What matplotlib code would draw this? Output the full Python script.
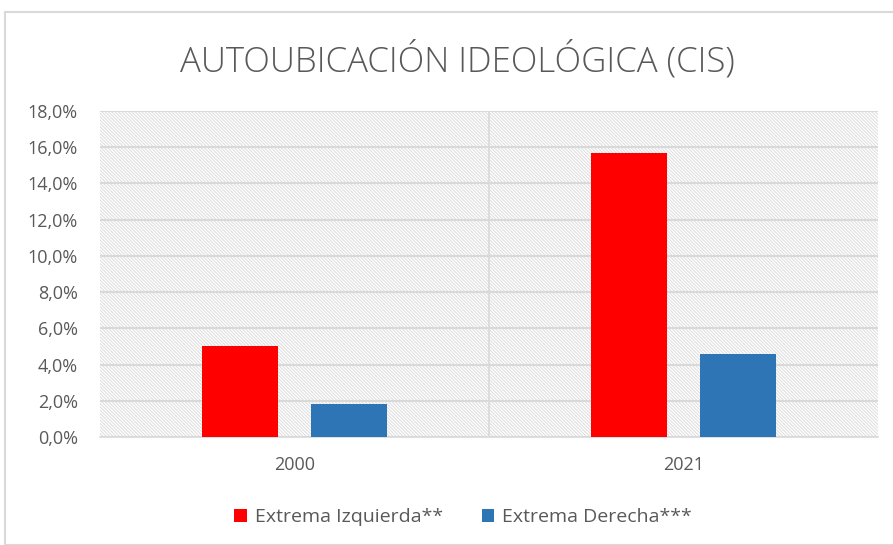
import matplotlib
matplotlib.use("Agg")
import matplotlib.pyplot as plt
from matplotlib.patches import Rectangle
from matplotlib.ticker import FuncFormatter
import numpy as np

plt.rcParams['hatch.color'] = '#dcdcdc'
plt.rcParams['hatch.linewidth'] = 0.7
plt.rcParams['font.family'] = ['Open Sans', 'DejaVu Sans']

years = ["2000", "2021"]
izquierda = [5.0, 15.7]
derecha = [1.8, 4.6]
series_names = ["Extrema Izquierda**", "Extrema Derecha***"]
colors = ["#ff0000", "#2e75b6"]

fig = plt.figure(figsize=(8.93, 5.45), dpi=100)
ax = fig.add_axes([100/893, 1-437/545, 778/893, 326/545])

x = np.arange(len(years))
w = 0.195
off = 0.14
ax.bar(x - off, izquierda, w, color=colors[0], label=series_names[0], zorder=3)
ax.bar(x + off, derecha, w, color=colors[1], label=series_names[1], zorder=3)

ax.set_xlim(-0.5, 1.5)
ax.set_ylim(0, 18)
ax.set_yticks(np.arange(0, 18.1, 2))
ax.yaxis.set_major_formatter(FuncFormatter(lambda v, p: f"{v:.1f}%".replace('.', ',')))
ax.set_xticks(x)
ax.set_xticklabels(years)

# hatched background
ax.add_patch(Rectangle((0, 0), 1, 1, transform=ax.transAxes, facecolor='white',
                       hatch='\\' * 10, edgecolor='#dcdcdc', linewidth=0, zorder=0))
ax.set_facecolor('white')
ax.grid(axis='y', color='#d9d9d9', linewidth=1.5, zorder=1)
ax.axvline(0.5, color='#d9d9d9', linewidth=1.2, zorder=1)
for s in ['left', 'right', 'top']:
    ax.spines[s].set_visible(False)
ax.spines['bottom'].set_color('#d9d9d9')
ax.spines['bottom'].set_linewidth(1.2)
ax.tick_params(axis='y', length=0, labelsize=13, colors='#595959', pad=16)
ax.tick_params(axis='x', length=0, labelsize=13, colors='#595959', pad=14)

fig.text(457/893, 1-60/545, "AUTOUBICACIÓN IDEOLÓGICA (CIS)", ha='center', va='center',
         fontsize=25, color='#595959', fontweight='light')

fig.legend(loc='center', bbox_to_anchor=(463/893, 1-517/545), ncol=2, frameon=False,
           fontsize=14, labelcolor='#595959', handlelength=0.65, handleheight=0.65,
           handletextpad=0.4, columnspacing=2.0)

fig.patches.append(Rectangle((5/893, 0), 1, 1-12/545, transform=fig.transFigure,
                             fill=False, edgecolor='#d9d9d9', linewidth=1.5))

fig.savefig("out.png", dpi=100)
